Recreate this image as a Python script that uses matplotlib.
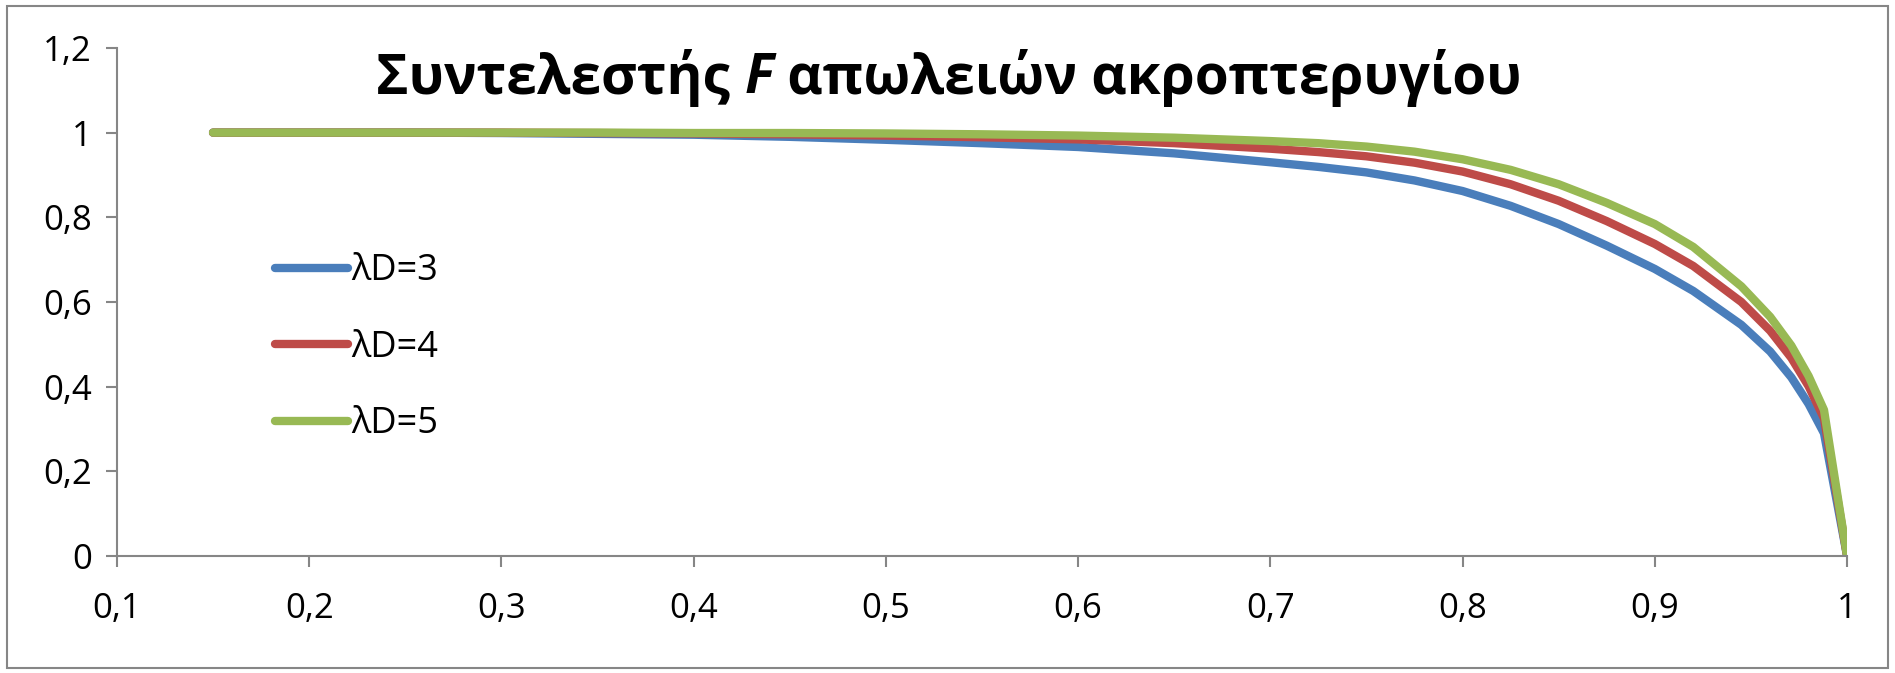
import matplotlib.pyplot as plt
from matplotlib.patches import Rectangle
from matplotlib.ticker import FuncFormatter

plt.rcParams['font.family'] = ['Open Sans', 'DejaVu Sans']

# r/R values along the blade
r = [0.15, 0.2, 0.25, 0.3, 0.35, 0.4, 0.45, 0.5, 0.55, 0.6, 0.65, 0.7, 0.725, 0.75, 0.775,
     0.8, 0.825, 0.85, 0.875, 0.9, 0.92, 0.945, 0.96, 0.971, 0.98, 0.988, 1.0]

# tip loss factor F
F_ld3 = [1.0, 1.0, 1.0, 0.999, 0.997, 0.995, 0.990, 0.983, 0.975, 0.966, 0.951, 0.930, 0.919,
         0.906, 0.887, 0.862, 0.827, 0.784, 0.733, 0.678, 0.626, 0.546, 0.483, 0.422, 0.359,
         0.290, 0.0]
F_ld4 = [1.0, 1.0, 1.0, 1.0, 0.999, 0.998, 0.996, 0.993, 0.989, 0.984, 0.975, 0.962, 0.954,
         0.944, 0.929, 0.908, 0.878, 0.839, 0.791, 0.737, 0.685, 0.600, 0.532, 0.468, 0.401,
         0.325, 0.0]
F_ld5 = [1.0, 1.0, 1.0, 1.0, 1.0, 0.999, 0.999, 0.998, 0.996, 0.993, 0.988, 0.980, 0.975,
         0.967, 0.955, 0.937, 0.912, 0.878, 0.834, 0.784, 0.730, 0.637, 0.565, 0.497, 0.425,
         0.345, 0.0]

labels = ["λD=3", "λD=4", "λD=5"]
colors = ["#4A7EBB", "#BE4B48", "#98B954"]

fig = plt.figure(figsize=(18.95, 6.73), dpi=100)
ax = fig.add_axes([0.0617, 0.1738, 0.913, 0.755])

for ys, lab, c in zip([F_ld3, F_ld4, F_ld5], labels, colors):
    ax.plot(r, ys, color=c, lw=6, label=lab, solid_capstyle='round', solid_joinstyle='round')

ax.set_xlim(0.1, 1.0)
ax.set_ylim(0, 1.2)
ax.set_xticks([0.1, 0.2, 0.3, 0.4, 0.5, 0.6, 0.7, 0.8, 0.9, 1.0])
ax.set_yticks([0, 0.2, 0.4, 0.6, 0.8, 1.0, 1.2])
fmt = FuncFormatter(lambda v, p: ("%g" % round(v, 1)).replace(".", ","))
ax.xaxis.set_major_formatter(fmt)
ax.yaxis.set_major_formatter(fmt)

for s in ["top", "right"]:
    ax.spines[s].set_visible(False)
for s in ["left", "bottom"]:
    ax.spines[s].set_color("#868686")
    ax.spines[s].set_linewidth(1.5)
ax.tick_params(axis='both', direction='out', length=8, width=1.5, color="#868686",
               labelsize=25, labelcolor="black")
ax.tick_params(axis='x', pad=18)
ax.tick_params(axis='y', pad=10)

leg = ax.legend(loc='center left', bbox_to_anchor=(0.0916, 0.41), frameon=False, fontsize=26,
                handlelength=2.0, handletextpad=0.1, labelspacing=1.12,
                borderpad=0, borderaxespad=0)

# title, with italic F
fig.canvas.draw()
rend = fig.canvas.get_renderer()
ty = 0.884
fs = 39.5
t1 = fig.text(0.2, ty, "Συντελεστής ", fontsize=fs, fontweight='bold', va='center')
bb = t1.get_window_extent(rend).transformed(fig.transFigure.inverted())
t2 = fig.text(bb.x1, ty, "F", fontsize=fs, fontweight='bold', style='italic', va='center')
bb2 = t2.get_window_extent(rend).transformed(fig.transFigure.inverted())
t3 = fig.text(bb2.x1, ty, " απωλειών ακροπτερυγίου", fontsize=fs, fontweight='bold', va='center')
bb3 = t3.get_window_extent(rend).transformed(fig.transFigure.inverted())
# centre the whole title on its place in the chart
shift = (378 + 1520) / 2 / 1895 - (bb.x0 + bb3.x1) / 2
for t in (t1, t2, t3):
    x, y = t.get_position()
    t.set_position((x + shift, y))

fig.patches.append(Rectangle((7 / 1895, 5 / 673), 1881 / 1895, 662 / 673, transform=fig.transFigure,
                             fill=False, edgecolor="#868686", lw=1.5))

fig.savefig("out.png", dpi=100)
